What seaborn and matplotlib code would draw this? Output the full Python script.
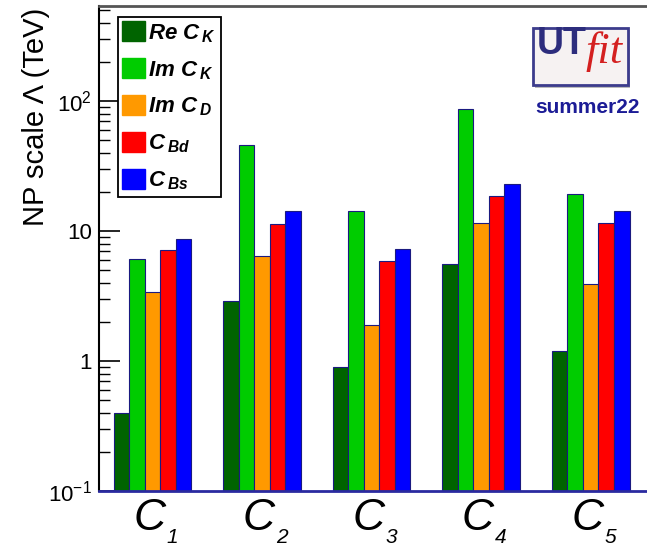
import numpy as np
import pandas as pd
import matplotlib
matplotlib.use("Agg")
import matplotlib.pyplot as plt
import matplotlib.transforms as mtransforms
import seaborn as sns
from matplotlib.patches import Patch, Rectangle
from matplotlib.ticker import FixedLocator, FixedFormatter, LogLocator, NullFormatter

# ---------------- data ----------------
operators = ["C1", "C2", "C3", "C4", "C5"]
op_letter = "C"
op_index = ["1", "2", "3", "4", "5"]
series = ["Re CK", "Im CK", "Im CD", "CBd", "CBs"]
series_labels = [r"$\mathbfit{Re\ C}\,_{\mathbfit{K}}$", r"$\mathbfit{Im\ C}\,_{\mathbfit{K}}$",
                 r"$\mathbfit{Im\ C}\,_{\mathbfit{D}}$", r"$\mathbfit{C}\,_{\mathbfit{Bd}}$",
                 r"$\mathbfit{C}\,_{\mathbfit{Bs}}$"]
re_ck = [0.40, 2.9, 0.90, 5.6, 1.2]
im_ck = [6.1, 45.6, 14.2, 87.0, 19.3]
im_cd = [3.4, 6.4, 1.9, 11.5, 3.9]
c_bd = [7.1, 11.3, 5.9, 18.6, 11.5]
c_bs = [8.7, 14.2, 7.3, 22.9, 14.2]
colors = ["#006400", "#00cc00", "#ff9900", "#ff0000", "#0000ff"]
ytick_vals = [0.1, 1, 10, 100]
ytick_labels = [r"$10^{-1}$", "1", "10", r"$10^{2}$"]

df = pd.DataFrame({
    "op": np.repeat(operators, len(series)),
    "series": series * len(operators),
    "value": np.array([re_ck, im_ck, im_cd, c_bd, c_bs]).T.ravel(),
})

# ---------------- style ----------------
sns.set_theme(style="white")
plt.rcParams["font.family"] = ["Liberation Sans", "DejaVu Sans"]
plt.rcParams["mathtext.fontset"] = "custom"
plt.rcParams["mathtext.rm"] = "Liberation Sans"
plt.rcParams["mathtext.it"] = "Liberation Sans:italic"
plt.rcParams["mathtext.bf"] = "Liberation Sans:bold"
plt.rcParams["mathtext.bfit"] = "Liberation Sans:bold:italic"
for k in ["text.color", "axes.labelcolor", "xtick.color", "ytick.color"]:
    plt.rcParams[k] = "black"

W, H = 647, 547
fig = plt.figure(figsize=(W / 100, H / 100), dpi=100)
left_px, right_px, top_px, bot_px = 99, 652, 6, 491
ax = fig.add_axes([left_px / W, 1 - bot_px / H, (right_px - left_px) / W, (bot_px - top_px) / H])

sns.barplot(data=df, x="op", y="value", hue="series", hue_order=series, order=operators,
            palette=colors, width=0.71, dodge=True, ax=ax, legend=False,
            edgecolor="#1a1a80", linewidth=0.8, saturation=1)

ax.set_yscale("log")
ax.set_ylim(0.1, 540)
ax.set_xlim(-0.488, 4.56)

ax.yaxis.set_major_locator(FixedLocator(ytick_vals))
ax.yaxis.set_major_formatter(FixedFormatter(ytick_labels))
ax.yaxis.set_minor_locator(LogLocator(base=10, subs=np.arange(2, 10)))
ax.yaxis.set_minor_formatter(NullFormatter())
ax.tick_params(axis="y", which="major", direction="in", length=15, width=1.2, labelsize=16,
               pad=5, left=True, colors="black")
ax.tick_params(axis="y", which="minor", direction="in", length=8, width=1.0, left=True)

# x labels: italic "C" as tick labels, subscript index below-right
ax.set_xticks(range(len(operators)))
ax.set_xticklabels([op_letter] * len(operators), fontstyle="italic")
ax.tick_params(axis="x", which="both", length=0, labelsize=32, pad=5)
for lab in ax.get_xticklabels():
    lab.set_transform(lab.get_transform() + mtransforms.ScaledTranslation(-3 / 100, 0, fig.dpi_scale_trans))
trans = mtransforms.blended_transform_factory(ax.transData, ax.transAxes)
for i, idx in enumerate(op_index):
    ax.text(i, 0, idx, fontsize=15, fontstyle="italic", ha="center", va="top",
            transform=trans + mtransforms.ScaledTranslation(19.5 / 100, -37 / 100, fig.dpi_scale_trans))

for s in ["left", "top", "bottom"]:
    ax.spines[s].set_visible(True)
ax.spines["right"].set_visible(False)
ax.spines["left"].set_color("black")
ax.spines["left"].set_linewidth(1.5)
ax.spines["top"].set_color("#555555")
ax.spines["top"].set_linewidth(2)
ax.spines["bottom"].set_color("#2a2aa0")
ax.spines["bottom"].set_linewidth(2)

ax.set_xlabel("")
ax.set_ylabel("NP scale \u039b (TeV)", fontsize=21)
ax.yaxis.set_label_coords(-0.088, 0.772)

# legend
handles = [Patch(facecolor=c, edgecolor=c) for c in colors]
leg = ax.legend(handles, series_labels, loc="upper left",
                bbox_to_anchor=(118 / W, 1 - 17 / H), bbox_transform=fig.transFigure,
                borderaxespad=0, fontsize=16, frameon=True, fancybox=False,
                edgecolor="black", framealpha=1, handlelength=1.0, handleheight=1.0,
                handletextpad=0.15, labelspacing=0.62, borderpad=0.2)
leg.get_frame().set_linewidth(1.3)

# logo
def fx(px):
    return px / W

def fy(py):
    return 1 - py / H

fig.add_artist(Rectangle((fx(535), fy(88)), (630 - 535) / W, (88 - 30) / H,
                         transform=fig.transFigure, facecolor="#bbbbbb", edgecolor="none"))
fig.add_artist(Rectangle((fx(533), fy(85)), (628 - 533) / W, (85 - 28) / H,
                         transform=fig.transFigure, facecolor="#f6f2f2", edgecolor="#3c3c8c", lw=2))
fig.text(fx(537), fy(54), "UT", fontsize=27, fontweight="bold", color="#2d2d7d",
         ha="left", va="baseline")
fig.text(fx(585), fy(63), "fit", fontsize=32, fontstyle="italic", color="#d42020",
         family="Liberation Serif", ha="left", va="baseline")
fig.text(fx(588), fy(113), "summer22", fontsize=15, fontweight="bold", color="#1c1c96",
         ha="center", va="baseline")

fig.savefig("out.png", dpi=100)
